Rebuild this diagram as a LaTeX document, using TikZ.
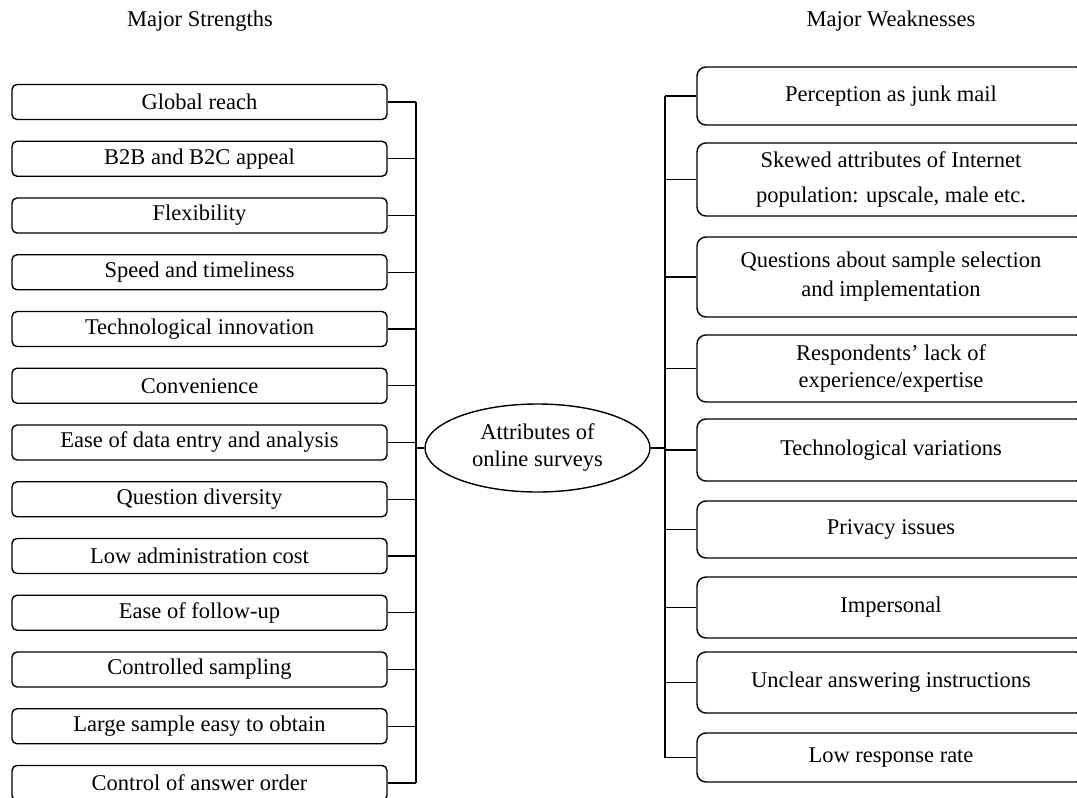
\documentclass[tikz,border=0pt]{standalone}
\usepackage{fontspec}
\setmainfont{Liberation Serif}
\usetikzlibrary{shapes.geometric}
\begin{document}
\begin{tikzpicture}[x=1pt,y=-1pt,
  txt/.style={font=\fontsize{22.5}{27}\selectfont},
  lbox/.style={draw,line width=1.4pt,rounded corners=5pt,minimum width=375pt,minimum height=35pt,inner sep=0pt,txt},
  rbox/.style={draw,line width=1.4pt,rounded corners=9pt,minimum width=388pt,inner sep=0pt,align=center,txt},
  link/.style={line width=1.4pt},
  bus/.style={line width=2.2pt},
  head/.style={font=\fontsize{22.5}{25}\selectfont}]
\useasboundingbox (0,0) rectangle (1077,798);
\clip (0,0) rectangle (1077,798);
\fill[white] (0,0) rectangle (1077,798);
\node[head] (hs) at (200,21) {Major Strengths};
\node[head] (hw) at (891,21) {Major Weaknesses};
% left boxes
\foreach \t [count=\i from 0] in {Global reach,B2B and B2C appeal,Flexibility,Speed and timeliness,Technological innovation,Convenience,Ease of data entry and analysis,Question diversity,Low administration cost,Ease of follow-up,Controlled sampling,Large sample easy to obtain,Control of answer order}{
  \node[lbox] (L\i) at (199.5,{102+56.75*\i}) {\t};
}
\coordinate (lb) at (416,0);
\foreach \i in {0,...,12}{\draw[link] (L\i.east) -- (L\i.east -| lb);}
\draw[bus] (L0.east -| lb) -- (L12.east -| lb);
% center
\node[draw,ellipse,line width=1.4pt,minimum width=225pt,minimum height=88pt,inner sep=0pt,align=center,txt] (C) at (537.5,448) {Attributes of\\online surveys};
\draw[link] (C.west) -- (C.west -| lb);
% right boxes
\node[rbox,minimum height=58pt] (R1) at (891,96) {Perception as junk mail};
\node[rbox,minimum height=73pt,font=\fontsize{22.5}{35}\selectfont] (R2) at (891,179.5) {Skewed attributes of Internet\\population: upscale, male etc.};
\node[rbox,minimum height=80pt,font=\fontsize{22.5}{29}\selectfont] (R3) at (891,277) {Questions about sample selection\\and implementation};
\node[rbox,minimum height=67pt] (R4) at (891,368.5) {Respondents’ lack of\\experience/expertise};
\node[rbox,minimum height=62pt] (R5) at (891,450) {Technological variations};
\node[rbox,minimum height=57pt] (R6) at (891,529.5) {Privacy issues};
\node[rbox,minimum height=61pt] (R7) at (891,607.5) {Impersonal};
\node[rbox,minimum height=61pt] (R8) at (891,682.5) {Unclear answering instructions};
\node[rbox,minimum height=49pt] (R9) at (891,757.5) {Low response rate};
\coordinate (rb) at (665,0);
\foreach \i in {1,...,9}{\draw[link] (R\i.west) -- (R\i.west -| rb);}
\draw[bus] (R1.west -| rb) -- (R9.west -| rb);
\draw[link] (C.east) -- (C.east -| rb);
\end{tikzpicture}
\end{document}
